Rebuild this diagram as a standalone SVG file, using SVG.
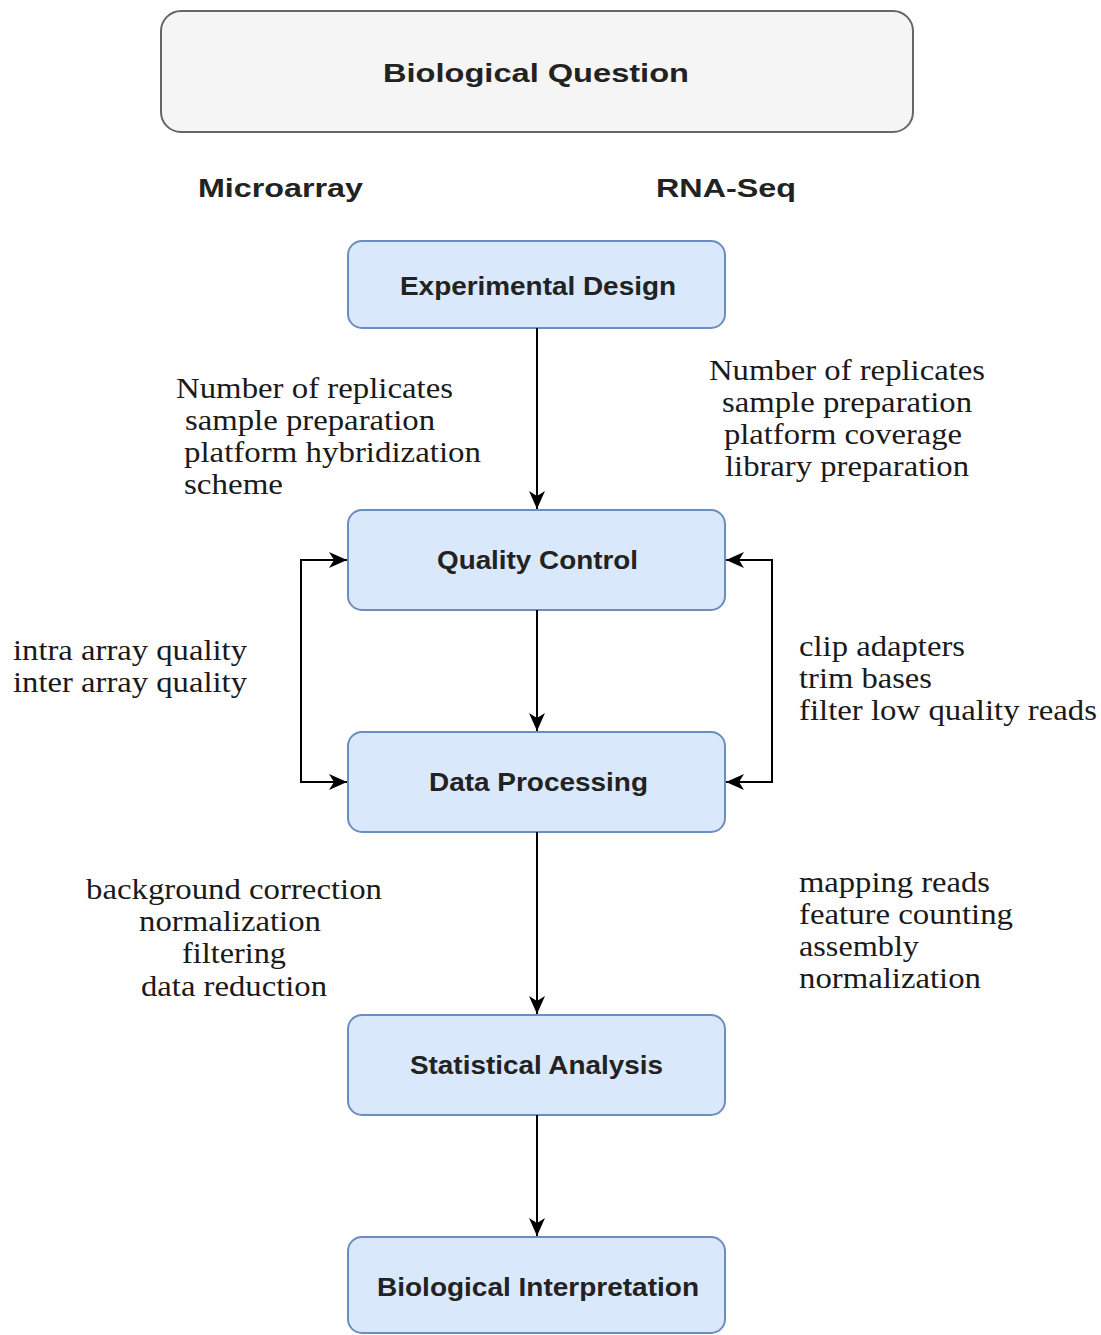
<svg xmlns="http://www.w3.org/2000/svg" width="1101" height="1335" viewBox="0 0 1101 1335">
<style>
.node{fill:#dae8fc;stroke:#6c8ebf;stroke-width:2}
.q{fill:#f5f5f5;stroke:#666666;stroke-width:2}
.lbl{font-family:"Liberation Sans",Arial,sans-serif;font-weight:bold;font-size:25px;fill:#222222}
.ser{font-family:"Liberation Serif","Times New Roman",serif;font-size:29px;fill:#1a1a1a}
.edge{fill:none;stroke:#000;stroke-width:2}
</style>
<defs>
<marker id="ah" markerUnits="userSpaceOnUse" markerWidth="20" markerHeight="18" refX="18" refY="8" orient="auto-start-reverse">
<path d="M0,0 L18,8 L0,16 L5,8 z" fill="#000"/>
</marker>
</defs>
<rect width="1101" height="1335" fill="#ffffff"/>
<g id="biological-question">
<rect class="q" x="161" y="11" width="752" height="121" rx="20"/>
<text class="lbl" x="383" y="82" textLength="306" lengthAdjust="spacingAndGlyphs" fill="#333">Biological Question</text>
</g>
<g id="headers">
<text class="lbl" x="198" y="197" textLength="165" lengthAdjust="spacingAndGlyphs">Microarray</text>
<text class="lbl" x="656" y="197" textLength="140" lengthAdjust="spacingAndGlyphs">RNA-Seq</text>
</g>
<g id="experimental-design">
<rect class="node" x="348" y="241" width="377" height="87" rx="14"/>
<text class="lbl" x="400" y="295" textLength="276" lengthAdjust="spacingAndGlyphs">Experimental Design</text>
</g>
<g id="quality-control">
<rect class="node" x="348" y="510" width="377" height="100" rx="14"/>
<text class="lbl" x="437" y="569" textLength="201" lengthAdjust="spacingAndGlyphs">Quality Control</text>
</g>
<g id="data-processing">
<rect class="node" x="348" y="732" width="377" height="100" rx="14"/>
<text class="lbl" x="429" y="791" textLength="219" lengthAdjust="spacingAndGlyphs">Data Processing</text>
</g>
<g id="statistical-analysis">
<rect class="node" x="348" y="1015" width="377" height="100" rx="14"/>
<text class="lbl" x="410" y="1074" textLength="253" lengthAdjust="spacingAndGlyphs">Statistical Analysis</text>
</g>
<g id="biological-interpretation">
<rect class="node" x="348" y="1237" width="377" height="96" rx="14"/>
<text class="lbl" x="377" y="1296" textLength="322" lengthAdjust="spacingAndGlyphs">Biological Interpretation</text>
</g>
<g id="connectors">
<line class="edge" x1="537" y1="328" x2="537" y2="509" marker-end="url(#ah)"/>
<line class="edge" x1="537" y1="610" x2="537" y2="731" marker-end="url(#ah)"/>
<line class="edge" x1="537" y1="832" x2="537" y2="1014" marker-end="url(#ah)"/>
<line class="edge" x1="537" y1="1115" x2="537" y2="1236" marker-end="url(#ah)"/>
<path class="edge" d="M347,560 H301 V782 H347" marker-start="url(#ah)" marker-end="url(#ah)"/>
<path class="edge" d="M726,560 H772 V782 H726" marker-start="url(#ah)" marker-end="url(#ah)"/>
</g>
<g id="annotations">
<text class="ser" x="176" y="398" textLength="277" lengthAdjust="spacingAndGlyphs">Number of replicates</text>
<text class="ser" x="185" y="430" textLength="250" lengthAdjust="spacingAndGlyphs">sample preparation</text>
<text class="ser" x="184" y="462" textLength="297" lengthAdjust="spacingAndGlyphs">platform hybridization</text>
<text class="ser" x="184" y="494" textLength="99" lengthAdjust="spacingAndGlyphs">scheme</text>

<text class="ser" x="709" y="380" textLength="276" lengthAdjust="spacingAndGlyphs">Number of replicates</text>
<text class="ser" x="722" y="412" textLength="250" lengthAdjust="spacingAndGlyphs">sample preparation</text>
<text class="ser" x="724" y="444" textLength="238" lengthAdjust="spacingAndGlyphs">platform coverage</text>
<text class="ser" x="725" y="476" textLength="244" lengthAdjust="spacingAndGlyphs">library preparation</text>

<text class="ser" x="13" y="660" textLength="234" lengthAdjust="spacingAndGlyphs">intra array quality</text>
<text class="ser" x="13" y="692" textLength="234" lengthAdjust="spacingAndGlyphs">inter array quality</text>

<text class="ser" x="799" y="656" textLength="166" lengthAdjust="spacingAndGlyphs">clip adapters</text>
<text class="ser" x="799" y="688" textLength="133" lengthAdjust="spacingAndGlyphs">trim bases</text>
<text class="ser" x="799" y="720" textLength="298" lengthAdjust="spacingAndGlyphs">filter low quality reads</text>

<text class="ser" x="86" y="899" textLength="296" lengthAdjust="spacingAndGlyphs">background correction</text>
<text class="ser" x="139" y="931" textLength="182" lengthAdjust="spacingAndGlyphs">normalization</text>
<text class="ser" x="182" y="963" textLength="104" lengthAdjust="spacingAndGlyphs">filtering</text>
<text class="ser" x="141" y="996" textLength="186" lengthAdjust="spacingAndGlyphs">data reduction</text>

<text class="ser" x="799" y="892" textLength="191" lengthAdjust="spacingAndGlyphs">mapping reads</text>
<text class="ser" x="799" y="924" textLength="214" lengthAdjust="spacingAndGlyphs">feature counting</text>
<text class="ser" x="799" y="956" textLength="120" lengthAdjust="spacingAndGlyphs">assembly</text>
<text class="ser" x="799" y="988" textLength="182" lengthAdjust="spacingAndGlyphs">normalization</text>
</g>
</svg>
